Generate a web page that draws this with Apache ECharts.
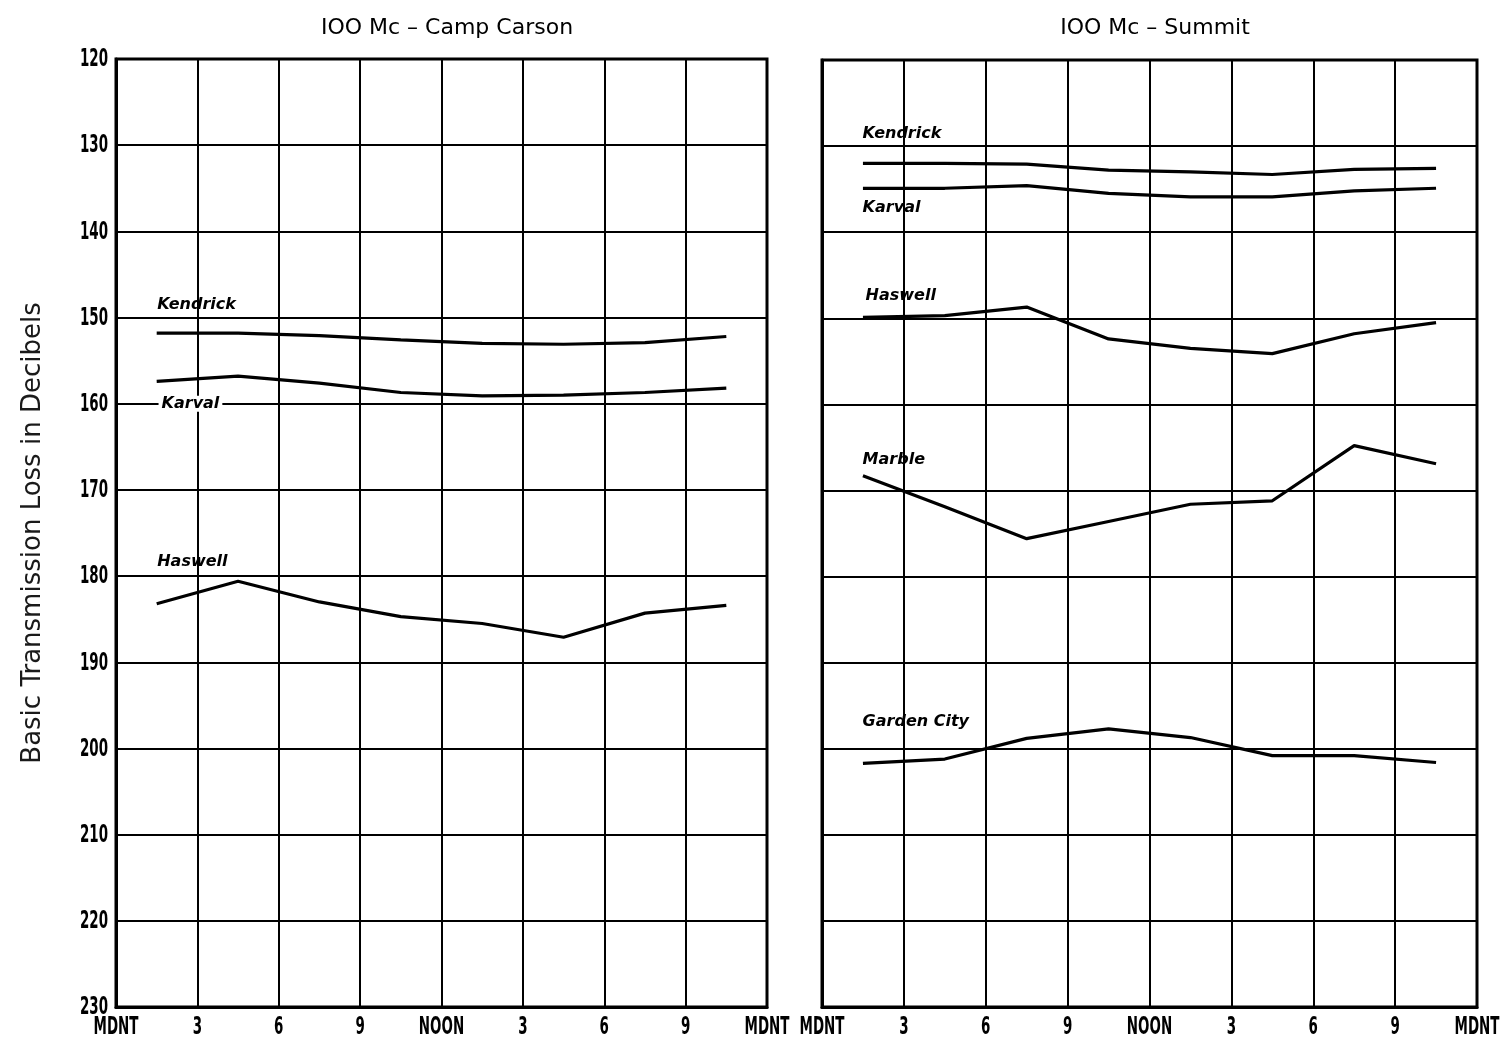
<!DOCTYPE html>
<html>
<head>
<meta charset="utf-8">
<title>100 Mc Basic Transmission Loss</title>
<script src="https://cdn.jsdelivr.net/npm/echarts@6/dist/echarts.min.js"></script>
<style>
  html, body { margin: 0; padding: 0; background: #fff; }
  #chart { width: 1506px; height: 1045px; }
</style>
</head>
<body>
<div id="chart"></div>
<script>
// Hour of day (local time) at which each hourly-median value is plotted
const hours = [1.5, 4.5, 7.5, 10.5, 13.5, 16.5, 19.5, 22.5];

// Time-of-day axis ticks
const tickHours = [0, 3, 6, 9, 12, 15, 18, 21, 24];
const tickLabels = ['MDNT', '3', '6', '9', 'NOON', '3', '6', '9', 'MDNT'];

// Loss axis (dB), drawn downward
const lossMin = 120;
const lossMax = 230;
const lossStep = 10;
const lossTicks = [120, 130, 140, 150, 160, 170, 180, 190, 200, 210, 220, 230];

// 100 Mc - Camp Carson
const carsonKendrick = [151.8, 151.8, 152.1, 152.6, 153.0, 153.1, 152.9, 152.2];
const carsonKarval   = [157.4, 156.8, 157.6, 158.7, 159.1, 159.0, 158.7, 158.2];
const carsonHaswell  = [183.2, 180.6, 183.0, 184.7, 185.5, 187.1, 184.3, 183.4];

// 100 Mc - Summit
const summitKendrick   = [132.0, 132.0, 132.1, 132.8, 133.0, 133.3, 132.7, 132.6];
const summitKarval     = [134.9, 134.9, 134.6, 135.5, 135.9, 135.9, 135.2, 134.9];
const summitHaswell    = [149.9, 149.7, 148.7, 152.4, 153.5, 154.1, 151.8, 150.5];
const summitMarble     = [168.3, 171.9, 175.6, 173.6, 171.6, 171.2, 164.8, 166.9];
const summitGardenCity = [201.7, 201.2, 198.8, 197.7, 198.7, 200.8, 200.8, 201.6];

const INK = '#000';
const tickFont = '600 24px "DejaVu Sans", sans-serif';
const tickSqueeze = 0.56;   // tall, narrow stencil-style lettering

// Station name written beside its curve, anchored in (hour, dB)
function stationSeries(gridIndex, name, values, anchor, boxed) {
  return {
    type: 'line',
    name: name,
    xAxisIndex: gridIndex,
    yAxisIndex: gridIndex,
    data: hours.map((h, i) => [h, values[i]]),
    showSymbol: false,
    silent: true,
    lineStyle: { color: INK, width: 3.2 },
    z: 5,
    markPoint: {
      silent: true,
      symbol: 'circle',
      symbolSize: 1,
      itemStyle: { color: 'rgba(0,0,0,0)' },
      label: {
        show: true,
        position: 'right',
        distance: 0,
        formatter: name,
        color: INK,
        fontFamily: '"DejaVu Sans", sans-serif',
        fontStyle: 'italic',
        fontWeight: 'bold',
        fontSize: 16,
        backgroundColor: boxed ? '#fff' : 'transparent',
        padding: boxed ? [0, 3] : 0
      },
      data: [{ coord: anchor }]
    }
  };
}

function timeAxis(gridIndex) {
  return {
    type: 'value',
    gridIndex: gridIndex,
    min: 0,
    max: 24,
    interval: 3,
    axisLine: { show: true, lineStyle: { color: INK, width: 3 } },
    axisTick: { show: false },
    axisLabel: { show: false },
    splitLine: { show: true, lineStyle: { color: INK, width: 2 } }
  };
}

function lossAxis(gridIndex) {
  return {
    type: 'value',
    gridIndex: gridIndex,
    inverse: true,
    min: lossMin,
    max: lossMax,
    interval: lossStep,
    axisLine: { show: true, lineStyle: { color: INK, width: 3 } },
    axisTick: { show: false },
    axisLabel: { show: false },
    splitLine: { show: true, lineStyle: { color: INK, width: 2 } }
  };
}

const chart = echarts.init(document.getElementById('chart'), null, { renderer: 'canvas' });

const yLeft = lossAxis(0);
yLeft.name = 'Basic Transmission Loss in Decibels';
yLeft.nameLocation = 'middle';
yLeft.nameRotate = 90;
yLeft.nameGap = 70;
yLeft.nameTextStyle = {
  color: '#1a1a1a',
  fontFamily: '"DejaVu Sans", sans-serif',
  fontSize: 26,
  fontWeight: 'normal'
};

const titleStyle = { color: INK, fontFamily: '"DejaVu Sans", sans-serif', fontWeight: 'normal', fontSize: 22 };

chart.setOption({
  animation: false,
  backgroundColor: '#fff',
  title: [
    { text: 'IOO Mc \u2013 Camp Carson', left: 442, top: 12, textAlign: 'center', textStyle: titleStyle },
    { text: 'IOO Mc \u2013 Summit', left: 1150, top: 12, textAlign: 'center', textStyle: titleStyle }
  ],
  grid: [
    { left: 116, right: 739, top: 59, bottom: 38, show: true, borderColor: INK, borderWidth: 3 },
    { left: 822, right: 29, top: 60, bottom: 38, show: true, borderColor: INK, borderWidth: 3 }
  ],
  xAxis: [timeAxis(0), timeAxis(1)],
  yAxis: [yLeft, lossAxis(1)],
  series: [
    stationSeries(0, 'Kendrick', carsonKendrick, [1.5, 148.5]),
    stationSeries(0, 'Karval', carsonKarval, [1.55, 160.0], true),
    stationSeries(0, 'Haswell', carsonHaswell, [1.5, 178.4]),
    stationSeries(1, 'Kendrick', summitKendrick, [1.47, 128.6]),
    stationSeries(1, 'Karval', summitKarval, [1.47, 137.2]),
    stationSeries(1, 'Haswell', summitHaswell, [1.58, 147.4]),
    stationSeries(1, 'Marble', summitMarble, [1.47, 166.4]),
    stationSeries(1, 'Garden City', summitGardenCity, [1.47, 196.9])
  ]
});

// Tick lettering: narrow upright characters placed at the axes' own tick positions
function tickText(x, y, text, align) {
  return {
    type: 'text',
    x: x,
    y: y,
    scaleX: tickSqueeze,
    silent: true,
    style: {
      text: text,
      fill: INK,
      font: tickFont,
      align: align,
      textAlign: align,
      verticalAlign: 'middle',
      textVerticalAlign: 'middle'
    }
  };
}

const tickGraphics = [];
[0, 1].forEach(g => {
  const axisY = chart.convertToPixel({ yAxisIndex: g }, lossMax);
  tickHours.forEach((h, i) => {
    const px = chart.convertToPixel({ xAxisIndex: g }, h);
    tickGraphics.push(tickText(px, axisY + 21, tickLabels[i], 'center'));
  });
});
const leftEdge = chart.convertToPixel({ xAxisIndex: 0 }, 0);
lossTicks.forEach(v => {
  const py = chart.convertToPixel({ yAxisIndex: 0 }, v);
  tickGraphics.push(tickText(leftEdge - 8, py + 1, String(v), 'right'));
});

chart.setOption({ graphic: tickGraphics });
</script>
</body>
</html>
